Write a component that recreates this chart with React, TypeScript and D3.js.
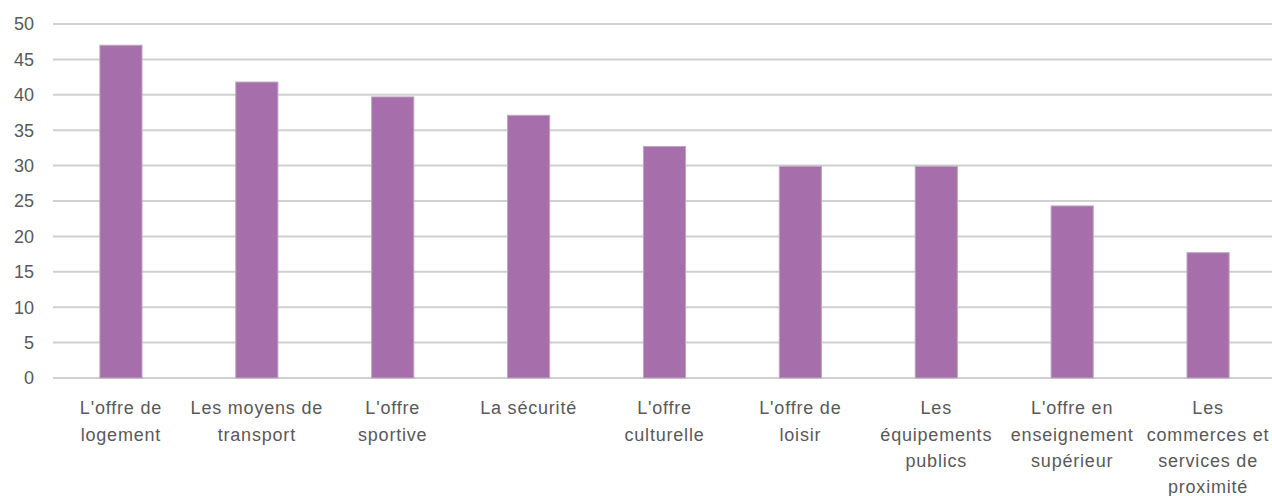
import React from "react";
import * as d3 from "d3";

const categories = [
  "L'offre de\nlogement",
  "Les moyens de\ntransport",
  "L'offre\nsportive",
  "La sécurité",
  "L'offre\nculturelle",
  "L'offre de\nloisir",
  "Les\néquipements\npublics",
  "L'offre en\nenseignement\nsupérieur",
  "Les\ncommerces et\nservices de\nproximité",
];
const values = [47.0, 41.8, 39.7, 37.1, 32.7, 29.9, 29.9, 24.3, 17.7];
const yTicks = [0, 5, 10, 15, 20, 25, 30, 35, 40, 45, 50];

const W = 1272;
const H = 496;
const left = 53;
const right = 1276;
const top = 24;
const bottom = 378;
const font = "'Liberation Sans', Arial, sans-serif";

export default function App() {
  const x = d3.scaleBand<number>().domain(d3.range(categories.length)).range([left, right]).paddingInner(0.69).paddingOuter(0.345);
  const y = d3.scaleLinear().domain([0, 50]).range([bottom, top]);
  return (
    <svg width={W} height={H} style={{ position: "absolute", left: 0, top: 0 }}>
      <rect width={W} height={H} fill="#fff" />
      {yTicks.map((t) => (
        <g key={t}>
          <line x1={left} x2={W} y1={y(t)} y2={y(t)} stroke="#d0d0d0" strokeWidth={2} />
          <text x={34} y={y(t)} dy="0.35em" textAnchor="end" fontFamily={font} fontSize={18} fill="#595959">{t}</text>
        </g>
      ))}
      {values.map((v, i) => (
        <rect key={i} x={x(i)!} y={y(v)} width={x.bandwidth()} height={y(0) - y(v)} fill="#A66FAC" stroke="#b9a8bb" strokeWidth={1} />
      ))}
      {categories.map((c, i) => (
        <text key={i} x={x(i)! + x.bandwidth() / 2} y={408} textAnchor="middle" fontFamily={font} fontSize={18} letterSpacing={0.8} fill="#595959">
          {c.split("\n").map((l, j) => (
            <tspan key={j} x={x(i)! + x.bandwidth() / 2} dy={j === 0 ? "0.35em" : 26.3}>{l}</tspan>
          ))}
        </text>
      ))}
    </svg>
  );
}
